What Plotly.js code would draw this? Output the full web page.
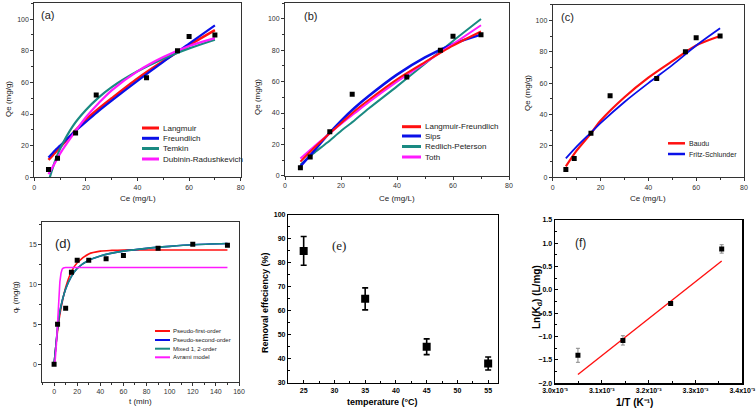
<!DOCTYPE html>
<html>
<head>
<meta charset="utf-8">
<script src="https://cdn.plot.ly/plotly-3.0.1.min.js"></script>
<style>html,body{margin:0;padding:0;background:#fff}#chart{width:756px;height:413px}</style>
</head>
<body>
<div id="chart"></div>
<script>
// ---------- DATA ----------
// isotherm experimental points (panels a, b, c)
const isoCe = [5.5, 9, 16, 24, 43.5, 55.5, 60, 70];
const isoQe = [5, 12, 28, 52, 63, 80, 89, 90];

// (a) fitted curves
const aFitX = [5.5, 8, 10, 15, 20, 25, 30, 40, 50, 60, 70];
const langmuirY = [11, 15.5, 19, 28, 36.5, 43.5, 50, 62.5, 73.5, 83.5, 93];
const freundlichY = [12.5, 17, 20, 28, 35, 42, 48.5, 61, 73, 84.5, 96];
const temkinX = [6, 8, 10, 15, 20, 25, 30, 40, 50, 60, 70];
const temkinY = [0, 10, 18, 32.5, 42.5, 50.5, 57, 67, 75, 81.5, 87];
const drY = [2, 9, 15, 27, 38, 47, 55, 67, 76, 83, 88];

// (b) fitted curves
const bFitX = [5.5, 10, 15, 20, 25, 30, 40, 50, 60, 70];
const lfY = [9, 17, 25.5, 33.5, 41.5, 48.5, 61.5, 72.5, 83, 92];
const sipsY = [6, 15, 25.5, 35, 43.5, 51, 64.5, 75.5, 84, 90];
const rpY = [7, 14, 21, 28.5, 35.5, 43, 57, 71.5, 86, 100];
const tothY = [11, 18, 25.5, 33, 40, 47, 60, 72, 84, 96];

// (c) fitted curves
const cFitX = [5.5, 10, 16, 20, 30, 40, 50, 60, 70];
const bauduY = [7, 17, 28, 36, 51, 63.5, 74, 84, 90];
const fritzY = [12, 19.5, 28.5, 34.5, 48, 60, 71.5, 84, 95];

// (d) kinetics
const kinT = [0, 3, 10, 15, 20, 30, 45, 60, 90, 120, 150];
const kinQ = [0, 5, 7, 11.5, 13, 13, 13.2, 13.6, 14.5, 15, 14.9];
const pfoT = [0, 2, 5, 10, 15, 20, 30, 40, 50, 60, 80, 100, 150];
const pfoQ = [0, 2.9, 6.2, 9.6, 11.6, 12.7, 13.8, 14.15, 14.25, 14.3, 14.3, 14.3, 14.3];
const mixT = [0, 2, 3, 5, 10, 15, 20, 30, 40, 50, 60, 80, 100, 120, 150];
const mixQ = [0, 3.0, 4.5, 6.6, 9.4, 11.0, 12.0, 13.0, 13.55, 13.9, 14.15, 14.5, 14.75, 14.95, 15.1];
const avT = [0, 1, 2, 3, 4, 5, 6, 7, 8, 10, 150];
const avQ = [0, 0.6, 2.5, 5.3, 8.2, 10.3, 11.4, 11.9, 12.05, 12.1, 12.1];

// (e) temperature effect
const tempC = [25, 35, 45, 55];
const removal = [85, 65, 45, 38];
const removalErr = [6, 4.6, 3.3, 2.7];

// (f) van't Hoff
const invT = [0.003049, 0.003145, 0.003247, 0.003356];
const lnKd = [-1.4, -1.08, -0.29, 0.88];
const lnKdErr = [0.15, 0.1, 0.03, 0.09];
const vhFitX = [0.003049, 0.003356];
const vhFitY = [-1.81, 0.62];
const fTickVals = [0.0030, 0.0031, 0.0032, 0.0033, 0.0034];
const fTickText = ['3.0x10⁻³', '3.1x10⁻³', '3.2x10⁻³', '3.3x10⁻³', '3.4x10⁻³'];

// ---------- STYLE / LAYOUT ----------
const W = 756, H = 413;
const RED = '#ff1010', BLUE = '#0a10e8', TEAL = '#1a8a82', MAG = '#ff1aff';
const SANS = 'Liberation Sans, Arial, sans-serif';

function px(x) { return x / W; }
function py(y) { return 1 - y / H; }

const traces = [];
function line(x, y, xa, ya, color, width, shape) {
  traces.push({x: x, y: y, xaxis: xa, yaxis: ya, mode: 'lines', showlegend: false,
    line: {color: color, width: width, shape: shape || 'spline', smoothing: 0.8}, hoverinfo: 'skip'});
}
function pts(x, y, xa, ya, size, err, errColor, errThick, errW) {
  const t = {x: x, y: y, xaxis: xa, yaxis: ya, mode: 'markers', showlegend: false,
    marker: {symbol: 'square', color: '#000', size: size}};
  if (err) t.error_y = {type: 'data', array: err, visible: true, color: errColor, thickness: errThick, width: errW};
  traces.push(t);
}

// (a)
line(aFitX, langmuirY, 'x', 'y', RED, 2.5);
line(aFitX, freundlichY, 'x', 'y', BLUE, 2.2);
line(temkinX, temkinY, 'x', 'y', TEAL, 2.2);
line(aFitX, drY, 'x', 'y', MAG, 2.2);
pts(isoCe, isoQe, 'x', 'y', 5);
// (b)
line(bFitX, rpY, 'x2', 'y2', TEAL, 2);
line(bFitX, sipsY, 'x2', 'y2', BLUE, 2.5);
line(bFitX, tothY, 'x2', 'y2', MAG, 2);
line(bFitX, lfY, 'x2', 'y2', RED, 2);
pts(isoCe, isoQe, 'x2', 'y2', 5);
// (c)
line(cFitX, bauduY, 'x3', 'y3', RED, 2.2);
line(cFitX, fritzY, 'x3', 'y3', BLUE, 1.8);
pts(isoCe, isoQe, 'x3', 'y3', 5);
// (d)
line(pfoT, pfoQ, 'x4', 'y4', RED, 1.6);
line(mixT, mixQ, 'x4', 'y4', BLUE, 1.6);
line(mixT, mixQ, 'x4', 'y4', TEAL, 1.6);
line(avT, avQ, 'x4', 'y4', MAG, 1.6, 'linear');
pts(kinT, kinQ, 'x4', 'y4', 5);
// (e)
pts(tempC, removal, 'x5', 'y5', 8, removalErr, '#000', 1.6, 3);
// (f)
line(vhFitX, vhFitY, 'x6', 'y6', RED, 1.4, 'linear');
pts(invT, lnKd, 'x6', 'y6', 5, lnKdErr, '#888', 1, 2);

function axis(d0, d1, range, dtick, minor, anchor, o) {
  const a = {domain: [d0, d1], range: range, dtick: dtick, anchor: anchor,
    showgrid: false, zeroline: false, showline: true, mirror: true,
    linecolor: '#333', linewidth: 1, ticks: 'outside', ticklen: 3, tickwidth: 1, tickcolor: '#333',
    minor: {dtick: minor, ticks: 'outside', ticklen: 2, tickcolor: '#333', showgrid: false},
    tickfont: {size: 7, family: SANS, color: '#333'}, fixedrange: true};
  return Object.assign(a, o || {});
}
const bold = {size: 7, family: SANS, color: '#000', weight: 'bold'};
const layout = {
  width: W, height: H, margin: {l: 0, r: 0, t: 0, b: 0},
  paper_bgcolor: '#fff', plot_bgcolor: '#fff', showlegend: false,
  xaxis: axis(px(34.3), px(240.7), [0, 80], 20, 10, 'y'),
  yaxis: axis(py(177.3), py(3.3), [0, 110], 20, 10, 'x'),
  xaxis2: axis(px(285), px(509), [0, 80], 20, 10, 'y2'),
  yaxis2: axis(py(175.7), py(3.3), [0, 110], 20, 10, 'x2'),
  xaxis3: axis(px(552.7), px(744), [0, 80], 20, 10, 'y3'),
  yaxis3: axis(py(177.3), py(4.7), [0, 110], 20, 10, 'x3'),
  xaxis4: axis(px(42.3), px(239), [-10.2, 160], 20, 10, 'y4'),
  yaxis4: axis(py(381.7), py(222), [-2.2, 17.8], 5, 2.5, 'x4'),
  xaxis5: axis(px(288.3), px(498), [22.5, 56.6], 5, 2.5, 'y5',
    {ticks: 'inside', linecolor: '#000', linewidth: 1.4, tickcolor: '#000',
     minor: {dtick: 2.5, ticks: 'inside', ticklen: 2, tickcolor: '#000'}, tickfont: bold}),
  yaxis5: axis(py(382.7), py(215), [30, 100], 10, 5, 'x5',
    {ticks: 'inside', linecolor: '#000', linewidth: 1.4, tickcolor: '#000',
     minor: {dtick: 5, ticks: 'inside', ticklen: 2, tickcolor: '#000'}, tickfont: bold}),
  xaxis6: axis(px(555), px(742.3), [0.003, 0.0034], null, 0.00005, 'y6',
    {tickmode: 'array', tickvals: fTickVals, ticktext: fTickText, ticks: 'inside',
     linecolor: '#000', linewidth: 1.4, tickcolor: '#000',
     minor: {dtick: 0.00005, ticks: 'inside', ticklen: 2, tickcolor: '#000'},
     tickfont: {size: 7, family: SANS, color: '#000', weight: 'bold'}}),
  yaxis6: axis(py(383.3), py(220), [-2, 1.5], 0.5, 0.25, 'x6',
    {tickformat: '.1f', ticks: 'inside', linecolor: '#000', linewidth: 1.4, tickcolor: '#000',
     minor: {dtick: 0.25, ticks: 'inside', ticklen: 2, tickcolor: '#000'},
     tickfont: {size: 7, family: SANS, color: '#000', weight: 'bold'}}),
  annotations: [], shapes: []
};

function note(text, x, y, o) {
  layout.annotations.push(Object.assign({text: text, xref: 'paper', yref: 'paper', x: px(x), y: py(y),
    xanchor: 'center', yanchor: 'middle', showarrow: false,
    font: {size: 8, family: SANS, color: '#222'}}, o || {}));
}
// axis titles
note('Qe (mg/g)', 8, 99, {textangle: -90});
note('Ce (mg/L)', 138, 199);
note('Qe (mg/g)', 257, 97, {textangle: -90});
note('Ce (mg/L)', 397, 199);
note('Qe (mg/g)', 527, 93, {textangle: -90});
note('Ce (mg/L)', 648, 199);
note('qₜ (mg/g)', 15, 297, {textangle: -90, font: {size: 8, family: SANS, color: '#222'}});
note('t (min)', 140, 401, {font: {size: 8, family: SANS, color: '#222'}});
note('Removal effeciency (%)', 265, 303, {textangle: -90, font: {size: 9, family: SANS, color: '#000', weight: 'bold'}});
note('temperature (°C)', 382, 402, {font: {size: 9, family: SANS, color: '#000', weight: 'bold'}});
note('Ln(K<sub>d</sub>) (L/mg)', 537, 297, {textangle: -90, font: {size: 10, family: SANS, color: '#000', weight: 'bold'}});
note('1/T (K⁻¹)', 634, 402, {font: {size: 10, family: SANS, color: '#000', weight: 'bold'}});
// panel labels
note('(a)', 47, 15, {font: {size: 11, family: SANS, color: '#222'}});
note('(b)', 310, 16, {font: {size: 11, family: SANS, color: '#222'}});
note('(c)', 567, 17, {font: {size: 11, family: SANS, color: '#222'}});
note('(d)', 63, 244, {font: {size: 13, family: SANS, color: '#222'}});
note('(e)', 339, 245, {font: {size: 13, family: 'Liberation Serif, Times New Roman, serif', color: '#222'}});
note('(f)', 580, 243, {font: {size: 12, family: SANS, color: '#222'}});

// legends (drawn as line samples + text)
function legend(items, x0, x1, xt, ys, size, lw) {
  items.forEach(function (it, i) {
    layout.shapes.push({type: 'line', xref: 'paper', yref: 'paper', x0: px(x0), x1: px(x1),
      y0: py(ys[i]), y1: py(ys[i]), line: {color: it[1], width: lw}});
    note(it[0], xt, ys[i], {xanchor: 'left', font: {size: size, family: SANS, color: '#222'}});
  });
}
legend([['Langmuir', RED], ['Freundlich', BLUE], ['Temkin', TEAL], ['Dubinin-Radushkevich', MAG]],
  142, 159, 161, [128, 138.3, 148.5, 159], 8, 3);
legend([['Langmuir-Freundlich', RED], ['Sips', BLUE], ['Redlich-Peterson', TEAL], ['Toth', MAG]],
  402, 421, 423, [126.7, 136, 146.5, 157], 8, 3);
legend([['Baudu', RED], ['Fritz-Schlunder', BLUE]],
  668, 685, 686.5, [143.3, 154], 7, 2.5);
legend([['Pseudo-first-order', RED], ['Pseudo-second-order', BLUE], ['Mixed 1, 2-order', TEAL], ['Avrami model', MAG]],
  155, 170, 171, [331, 340, 348.7, 357.3], 6, 2);

Plotly.newPlot('chart', traces, layout, {staticPlot: true, displayModeBar: false});
</script>
</body>
</html>
